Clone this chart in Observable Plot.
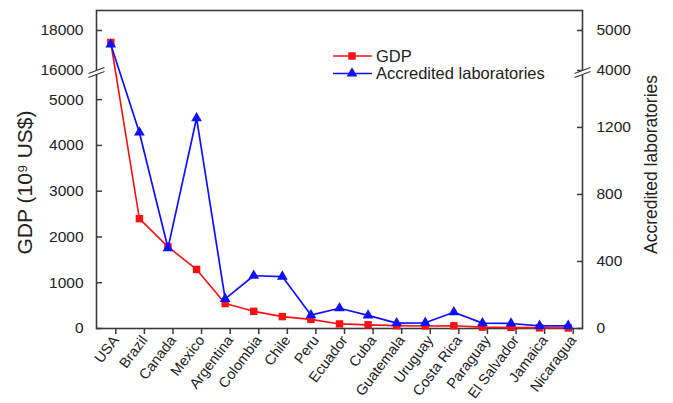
<!DOCTYPE html>
<html>
<head>
<meta charset="utf-8">
<script src="https://cdn.jsdelivr.net/npm/d3@7"></script>
<script src="https://cdn.jsdelivr.net/npm/@observablehq/plot@0.6"></script>
<style>
  html, body { margin: 0; padding: 0; background: white; }
  #wrap { position: relative; width: 673px; height: 403px; font-family: "Liberation Sans", Arial, sans-serif; }
  #wrap > svg { position: absolute; left: 0; top: 0; }
</style>
</head>
<body>
<div id="wrap"></div>
<script>
const countries = ["USA","Brazil","Canada","Mexico","Argentina","Colombia","Chile","Peru","Ecuador","Cuba","Guatemala","Uruguay","Costa Rica","Paraguay","El Salvador","Jamaica","Nicaragua"];
const gdp  = [17400, 2400, 1785, 1290, 545, 375, 260, 200, 100, 80, 62, 56, 60, 30, 25, 14, 12];
const labs = [4650, 1170, 480, 1255, 177, 315, 310, 80, 121, 78, 32, 34, 97, 32, 30, 16, 16];
const gdpTicks = [0, 1000, 2000, 3000, 4000, 5000, 16000, 18000];
const labTicks = [0, 400, 800, 1200, 4000, 5000];
const gdpSegments = [0, 5550, 16000, 19000];
const labSegments = [0, 1516, 4000, 5500];
const gdpBreak = [10775];
const labBreak = [2758];
const seriesNames = ["GDP", "Accredited laboratories"];
const yTitleLeft = ["GDP (10\u2079 US$)"];
const yTitleRight = ["Accredited laboratories"];

const gdpData = countries.map((c, i) => ({country: c, value: gdp[i]}));
const labData = countries.map((c, i) => ({country: c, value: labs[i]}));

const W = 673, H = 403, mT = 10, mB = 75, mL = 96, mR = 91;
// broken axis: piecewise mapping of data values onto a continuous display coordinate
const segLen = [0, 254, 258, 318];
const gdpBrk = d3.scaleLinear().domain(gdpSegments).range(segLen);
const labBrk = d3.scaleLinear().domain(labSegments).range(segLen);
const font = "'Liberation Sans', Arial, sans-serif";
const RED = "#ff1010", BLUE = "#1010ff", AX = "#3a3a3a";

const breakGap = {draw(ctx) { ctx.moveTo(-8, 1); ctx.lineTo(8, -5); ctx.lineTo(8, -1); ctx.lineTo(-8, 5); ctx.closePath(); }};
const breakLines = {draw(ctx) { ctx.moveTo(-8, 1); ctx.lineTo(8, -5); ctx.moveTo(-8, 5); ctx.lineTo(8, -1); }};

const common = {
  width: W, height: H, marginTop: mT, marginBottom: mB, marginLeft: mL, marginRight: mR,
  style: {background: "transparent", fontFamily: font, color: "#222", overflow: "visible"},
  x: {type: "point", domain: countries, range: [110.3, 567.7], padding: 0, round: false, axis: null}
};

const p1 = Plot.plot({
  ...common,
  y: {transform: gdpBrk, domain: [0, 318], axis: null},
  marks: [
    Plot.frame({stroke: AX, strokeWidth: 1.6}),
    Plot.axisX({tickRotate: -53, tickSize: 6, tickPadding: 3, dx: 5, dy: 0, fontSize: 14.5, stroke: AX, strokeWidth: 1.5, label: null}),
    Plot.axisY(gdpTicks, {anchor: "left", tickSize: -6, tickPadding: 19, fontSize: 15.5, stroke: AX, strokeWidth: 1.5, tickFormat: d => String(d), label: null}),
    Plot.dot(gdpBreak, {y: d => d, frameAnchor: "left", symbol: breakGap, fill: "white", stroke: "none", r: 5}),
    Plot.dot(gdpBreak, {y: d => d, frameAnchor: "left", symbol: breakLines, fill: "none", stroke: AX, strokeWidth: 1.3, r: 5}),
    Plot.text(yTitleLeft, {text: d => d, frameAnchor: "left", textAnchor: "middle", rotate: -90, dx: -71, dy: 13, fontSize: 21, fill: "#222"}),
    Plot.line(gdpData, {x: "country", y: "value", stroke: RED, strokeWidth: 1.6}),
    Plot.dot(gdpData, {x: "country", y: "value", symbol: "square", fill: RED, stroke: "none", r: 4.2})
  ]
});

const p2 = Plot.plot({
  ...common,
  y: {transform: labBrk, domain: [0, 318], axis: null},
  marks: [
    Plot.axisY(labTicks, {anchor: "right", tickSize: -6, tickPadding: 20, fontSize: 15.5, stroke: AX, strokeWidth: 1.5, tickFormat: d => String(d), label: null}),
    Plot.dot(labBreak, {y: d => d, frameAnchor: "right", symbol: breakGap, fill: "white", stroke: "none", r: 5}),
    Plot.dot(labBreak, {y: d => d, frameAnchor: "right", symbol: breakLines, fill: "none", stroke: AX, strokeWidth: 1.3, r: 5}),
    Plot.text(yTitleRight, {text: d => d, frameAnchor: "right", textAnchor: "middle", rotate: -90, dx: 69, dy: -5, fontSize: 17.5, fill: "#222"}),
    Plot.line(labData, {x: "country", y: "value", stroke: BLUE, strokeWidth: 1.7}),
    Plot.dot(labData, {x: "country", y: "value", symbol: "triangle", fill: BLUE, stroke: "none", r: 4})
  ]
});

const wrap = document.getElementById("wrap");
wrap.appendChild(p1);
wrap.appendChild(p2);

// Legend
const legend = d3.create("svg").attr("width", 250).attr("height", 40)
  .style("position", "absolute").style("left", "330px").style("top", "44px")
  .style("font-family", font);
const colors = [RED, BLUE];
const syms = [d3.symbolSquare, d3.symbolTriangle];
const sizes = [4.2 * 4.2 * Math.PI, 4 * 4 * Math.PI];
seriesNames.forEach((name, i) => {
  const g = legend.append("g").attr("transform", `translate(0,${12 + i * 17.5})`);
  g.append("line").attr("x1", 3).attr("x2", 42).attr("y1", 0).attr("y2", 0).attr("stroke", colors[i]).attr("stroke-width", 1.6);
  g.append("path").attr("transform", "translate(22,0)").attr("d", d3.symbol(syms[i], sizes[i])()).attr("fill", colors[i]);
  g.append("text").attr("x", 46).attr("y", 5.5).attr("font-size", 16.5).attr("fill", "#222").text(name);
});
wrap.appendChild(legend.node());
</script>
</body>
</html>
